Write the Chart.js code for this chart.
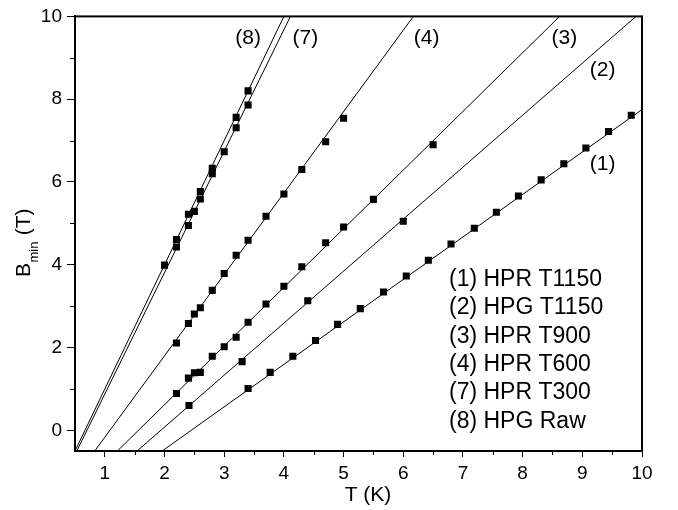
<!DOCTYPE html>
<html>
<head>
<meta charset="utf-8">
<script src="https://cdn.jsdelivr.net/npm/chart.js@4/dist/chart.umd.min.js"></script>
<style>
  html, body { margin: 0; padding: 0; background: #fff; }
  #wrap { width: 678px; height: 510px; position: relative; }
</style>
</head>
<body>
<div id="wrap"><canvas id="c"></canvas></div>
<script>
// measured points, B_min (T) vs T (K)
const t1 = [3.40, 3.77, 4.15, 4.53, 4.90, 5.28, 5.67, 6.05, 6.42, 6.80, 7.19, 7.56, 7.93, 8.31, 8.69, 9.06, 9.44, 9.82];
const b1 = [1.01, 1.40, 1.79, 2.17, 2.56, 2.94, 3.34, 3.73, 4.11, 4.50, 4.88, 5.27, 5.66, 6.05, 6.44, 6.82, 7.22, 7.61];
const t2 = [2.41, 3.30, 4.40, 6.00];
const b2 = [0.60, 1.66, 3.13, 5.05];
const t3 = [2.20, 2.40, 2.50, 2.60, 2.80, 3.00, 3.20, 3.40, 3.70, 4.00, 4.30, 4.70, 5.00, 5.50, 6.50];
const b3 = [0.89, 1.26, 1.39, 1.40, 1.79, 2.02, 2.25, 2.61, 3.05, 3.48, 3.95, 4.53, 4.91, 5.58, 6.90];
const t4 = [2.20, 2.40, 2.50, 2.60, 2.80, 3.00, 3.20, 3.40, 3.70, 4.00, 4.30, 4.70, 5.00];
const b4 = [2.11, 2.58, 2.81, 2.96, 3.38, 3.79, 4.23, 4.59, 5.17, 5.71, 6.30, 6.97, 7.54];
const t7 = [2.20, 2.40, 2.50, 2.60, 2.80, 3.00, 3.20, 3.40];
const b7 = [4.43, 4.95, 5.29, 5.59, 6.20, 6.73, 7.31, 7.86];
const t8 = [2.00, 2.20, 2.40, 2.60, 2.80, 3.20, 3.40];
const b8 = [3.99, 4.61, 5.22, 5.77, 6.33, 7.56, 8.20];

// fitted straight lines (end points)
const fitT1 = [1.96, 10.0],  fitB1 = [-0.5, 7.75];
const fitT2 = [1.54, 9.90],  fitB2 = [-0.5, 10];
const fitT3 = [1.21, 8.62],  fitB3 = [-0.5, 10];
const fitT4 = [0.83, 6.17],  fitB4 = [-0.5, 10];
const fitT7 = [0.53, 4.11],  fitB7 = [-0.5, 10];
const fitT8 = [0.50, 4.00],  fitB8 = [-0.5, 10];

const names = ["(1) HPR T1150", "(2) HPG T1150", "(3) HPR T900", "(4) HPR T600", "(7) HPR T300", "(8) HPG Raw"];
const tags  = ["(1)", "(2)", "(3)", "(4)", "(7)", "(8)"];
const tagT  = [9.34, 9.34, 8.70, 6.39, 4.36, 3.40];
const tagB  = [6.43, 8.69, 9.48, 9.48, 9.48, 9.48];

// axis ticks (labelled ones are whole numbers on x, even numbers on y)
const xTicks = [1, 1.5, 2, 2.5, 3, 3.5, 4, 4.5, 5, 5.5, 6, 6.5, 7, 7.5, 8, 8.5, 9, 9.5, 10];
const yTicks = [0, 1, 2, 3, 4, 5, 6, 7, 8, 9, 10];

const FONT = '"Liberation Sans", Arial, Helvetica, sans-serif';
const pts = (xs, ys) => xs.map((v, i) => ({x: v, y: ys[i]}));

const markerSets = [[t1,b1],[t2,b2],[t3,b3],[t4,b4],[t7,b7],[t8,b8]];
const fitSets = [[fitT1,fitB1],[fitT2,fitB2],[fitT3,fitB3],[fitT4,fitB4],[fitT7,fitB7],[fitT8,fitB8]];

const datasets = [];
fitSets.forEach(([xs, ys], i) => datasets.push({
  label: "fit " + tags[i], data: pts(xs, ys), showLine: true,
  borderColor: "#000", borderWidth: 1, pointRadius: 0, fill: false
}));
markerSets.forEach(([xs, ys], i) => datasets.push({
  label: names[i], data: pts(xs, ys), showLine: false,
  pointStyle: "rect", pointRadius: 5, pointBorderWidth: 0,
  backgroundColor: "#000", borderColor: "#000"
}));

const isInt = v => Math.abs(v - Math.round(v)) < 1e-6;
const isEven = v => isInt(v) && Math.round(v) % 2 === 0;

// frame, minor ticks, curve tags, text legend, axis titles
const overlay = {
  id: "overlay",
  afterDraw(chart) {
    const {ctx, chartArea: a, scales: {x, y}} = chart;
    ctx.save();
    ctx.strokeStyle = "#000";
    ctx.lineWidth = 2;
    ctx.strokeRect(a.left, a.top, a.right - a.left, a.bottom - a.top);

    ctx.lineWidth = 1;
    ctx.beginPath();
    x.ticks.forEach(tk => {
      if (isInt(tk.value)) return;
      const px = Math.round(x.getPixelForValue(tk.value)) + 0.5;
      ctx.moveTo(px, a.bottom); ctx.lineTo(px, a.bottom + 4);
    });
    y.ticks.forEach(tk => {
      if (isEven(tk.value)) return;
      const py = Math.round(y.getPixelForValue(tk.value)) + 0.5;
      ctx.moveTo(a.left, py); ctx.lineTo(a.left - 5, py);
    });
    ctx.stroke();

    ctx.fillStyle = "#000";
    ctx.textAlign = "center";
    ctx.textBaseline = "middle";
    ctx.font = "21px " + FONT;
    tags.forEach((s, i) => ctx.fillText(s, x.getPixelForValue(tagT[i]), y.getPixelForValue(tagB[i])));

    ctx.textAlign = "left";
    ctx.font = "23px " + FONT;
    names.forEach((s, i) => ctx.fillText(s, a.left + 374, a.top + 263 + i * 28.4));

    // x title
    ctx.textAlign = "center";
    ctx.font = "21px " + FONT;
    ctx.fillText("T (K)", 368, 495);

    // y title with subscript
    ctx.translate(30, 277);
    ctx.rotate(-Math.PI / 2);
    ctx.textAlign = "left";
    ctx.textBaseline = "alphabetic";
    ctx.font = "21px " + FONT;
    ctx.fillText("B", 0, 0);
    let w = ctx.measureText("B").width;
    ctx.font = "13px " + FONT;
    ctx.fillText("min", w + 0.5, 8);
    w += ctx.measureText("min").width + 1;
    ctx.font = "21px " + FONT;
    ctx.fillText(" (T)", w, 0);
    ctx.restore();
  }
};

new Chart(document.getElementById("c"), {
  type: "scatter",
  data: { datasets },
  plugins: [overlay],
  options: {
    responsive: true,
    maintainAspectRatio: false,
    animation: false,
    layout: { padding: { top: 16, right: 36, left: 0, bottom: 0 } },
    plugins: { legend: { display: false }, tooltip: { enabled: false } },
    scales: {
      x: {
        type: "linear", min: 0.5, max: 10,
        afterBuildTicks: s => { s.ticks = xTicks.map(v => ({value: v})); },
        afterFit: s => { s.height = 59; },
        border: { color: "#000", width: 2 },
        grid: {
          drawOnChartArea: false, tickLength: 6, tickWidth: 1,
          tickColor: c => isInt(c.tick.value) ? "#000" : "rgba(0,0,0,0)"
        },
        ticks: {
          autoSkip: false, maxRotation: 0, padding: 5,
          color: "#000", font: { size: 19, family: FONT },
          callback: v => isInt(v) ? String(Math.round(v)) : ""
        }
      },
      y: {
        type: "linear", min: -0.5, max: 10,
        afterBuildTicks: s => { s.ticks = yTicks.map(v => ({value: v})); },
        afterFit: s => { s.width = 75; },
        border: { color: "#000", width: 2 },
        grid: {
          drawOnChartArea: false, tickLength: 8, tickWidth: 1,
          tickColor: c => isEven(c.tick.value) ? "#000" : "rgba(0,0,0,0)"
        },
        ticks: {
          autoSkip: false, padding: 5,
          color: "#000", font: { size: 19, family: FONT },
          callback: v => isEven(v) ? String(Math.round(v)) : ""
        }
      }
    }
  }
});
</script>
</body>
</html>
